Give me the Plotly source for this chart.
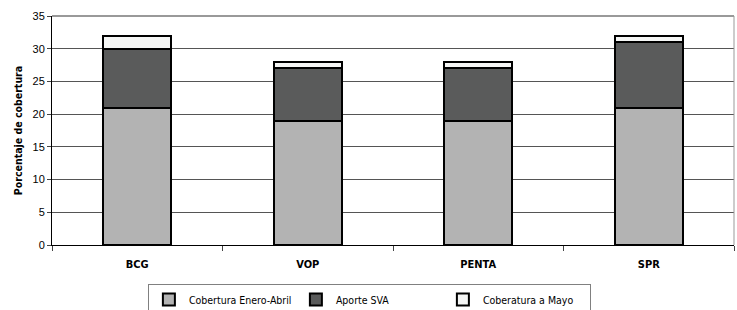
import plotly.graph_objects as go

categories = ["BCG", "VOP", "PENTA", "SPR"]
cobertura_ene_abr = [21, 19, 19, 21]
aporte_sva = [9, 8, 8, 10]
cobertura_mayo = [2, 1, 1, 1]
series_names = ["Cobertura Enero-Abril", "Aporte SVA", "Coberatura a Mayo"]
colors = ["#b3b3b3", "#5a5b5b", "#f5f6f5"]
yticks = [0, 5, 10, 15, 20, 25, 30, 35]

fig = go.Figure()
for name, vals, col in zip(series_names, [cobertura_ene_abr, aporte_sva, cobertura_mayo], colors):
    fig.add_trace(go.Bar(x=categories, y=vals, name=name, marker=dict(color=col, line=dict(color="black", width=2))))

fig.update_layout(
    barmode="stack",
    bargap=0.6,
    width=737, height=310,
    margin=dict(l=52, r=3, t=16, b=65, autoexpand=False),
    plot_bgcolor="white", paper_bgcolor="white",
    font=dict(family="DejaVu Sans Condensed, Liberation Sans Narrow, Arial", size=10.5, color="black"),
    showlegend=True,
    legend=dict(orientation="h", x=0.1406, xanchor="left", y=-0.17, yanchor="top",
                bordercolor="#808080", borderwidth=1, font=dict(size=10.5),
                traceorder="normal", itemwidth=30, entrywidth=102,
                tracegroupgap=0),
    xaxis=dict(showline=True, linecolor="black", linewidth=1, ticks="outside", ticklen=5,
               tickson="boundaries", ticklabelstandoff=9,
               tickfont=dict(family="DejaVu Sans Condensed", size=11),
               tickprefix="<b>", ticksuffix="</b>", mirror=False),
    yaxis=dict(range=[0, 35], tickvals=yticks, showline=True, linecolor="black", linewidth=1,
               ticks="outside", ticklen=4, showgrid=True, gridcolor="#555555", gridwidth=1,
               tickfont=dict(family="Liberation Sans, Arial", size=11),
               title=dict(text="<b>Porcentaje de cobertura</b>", font=dict(size=10.5), standoff=7)),
)
fig.add_shape(type="line", xref="paper", yref="paper", x0=1, x1=1, y0=0, y1=1, line=dict(color="#999999", width=1))
fig.add_shape(type="line", xref="paper", yref="paper", x0=0, x1=1, y0=1, y1=1, line=dict(color="#999999", width=2))
fig.write_html("out.html", post_script="document.body.style.margin='0';", config={"displayModeBar": False})
